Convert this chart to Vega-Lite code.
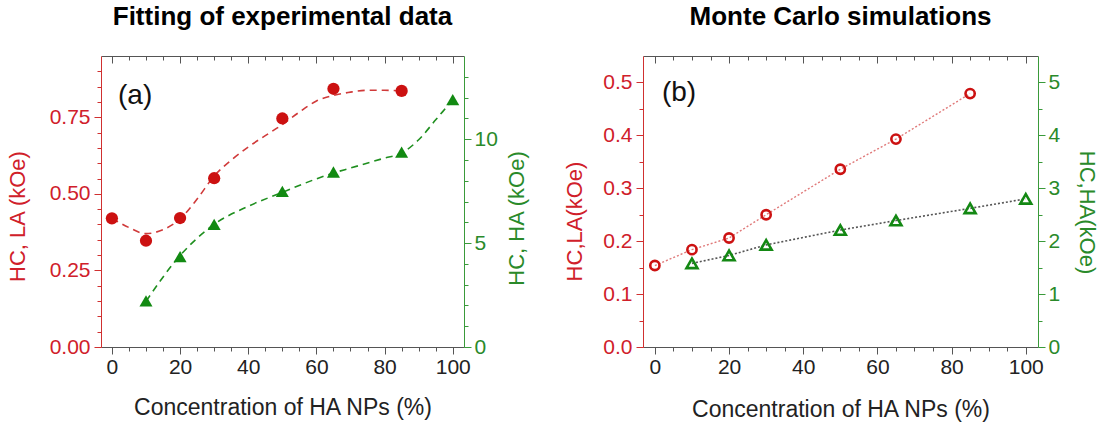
{
  "$schema": "https://vega.github.io/schema/vega-lite/v6.json",
  "background": "white",
  "padding": {"left": 6, "right": 6, "top": 3, "bottom": 4},
  "spacing": 35,
  "config": {
    "view": {"stroke": null},
    "font": "Liberation Sans",
    "axis": {"grid": false, "labelFont": "Liberation Sans", "titleFont": "Liberation Sans", "titleFontWeight": "normal"}
  },
  "datasets": {
    "expLA": [{"c": 0, "h": 0.42}, {"c": 10, "h": 0.347}, {"c": 20, "h": 0.421}, {"c": 30, "h": 0.551}, {"c": 50, "h": 0.746}, {"c": 65, "h": 0.843}, {"c": 85, "h": 0.836}],
    "expHA": [{"c": 10, "h": 2.22}, {"c": 20, "h": 4.35}, {"c": 30, "h": 5.9}, {"c": 50, "h": 7.49}, {"c": 65, "h": 8.42}, {"c": 85, "h": 9.38}, {"c": 100, "h": 11.9}],
    "fitLA": [{"c": 0, "h": 0.42}, {"c": 5, "h": 0.39}, {"c": 10, "h": 0.37}, {"c": 15, "h": 0.383}, {"c": 20, "h": 0.418}, {"c": 25, "h": 0.483}, {"c": 30, "h": 0.558}, {"c": 35, "h": 0.61}, {"c": 40, "h": 0.653}, {"c": 45, "h": 0.69}, {"c": 50, "h": 0.726}, {"c": 55, "h": 0.767}, {"c": 60, "h": 0.803}, {"c": 65, "h": 0.821}, {"c": 70, "h": 0.832}, {"c": 75, "h": 0.838}, {"c": 80, "h": 0.838}, {"c": 85, "h": 0.836}],
    "fitHA": [{"c": 10, "h": 2.2}, {"c": 20, "h": 4.4}, {"c": 30, "h": 5.9}, {"c": 40, "h": 6.77}, {"c": 50, "h": 7.44}, {"c": 60, "h": 8.09}, {"c": 65, "h": 8.37}, {"c": 70, "h": 8.61}, {"c": 80, "h": 9.09}, {"c": 85, "h": 9.33}, {"c": 90, "h": 9.97}, {"c": 95, "h": 10.93}, {"c": 100, "h": 11.89}],
    "mcLA": [{"c": 0, "h": 0.154}, {"c": 10, "h": 0.184}, {"c": 20, "h": 0.206}, {"c": 30, "h": 0.25}, {"c": 50, "h": 0.336}, {"c": 65, "h": 0.393}, {"c": 85, "h": 0.479}],
    "mcHA": [{"c": 10, "h": 1.58}, {"c": 20, "h": 1.73}, {"c": 30, "h": 1.93}, {"c": 50, "h": 2.21}, {"c": 65, "h": 2.39}, {"c": 85, "h": 2.62}, {"c": 100, "h": 2.8}],
    "labA": [{"c": 1.8, "h": 0.82, "t": "(a)"}],
    "labB": [{"c": 1.9, "h": 0.48, "t": "(b)"}]
  },
  "hconcat": [
    {
      "title": {"text": "Fitting of experimental data", "fontSize": 26, "fontWeight": "bold", "color": "#000", "anchor": "middle", "offset": 26},
      "width": 363,
      "height": 291,
      "resolve": {"scale": {"x": "independent", "y": "independent"}, "axis": {"x": "independent", "y": "independent"}},
      "layer": [
        {
          "data": {"name": "fitLA"},
          "mark": {"type": "line", "color": "#d03a3a", "strokeWidth": 1.6, "strokeDash": [7, 5], "interpolate": "monotone"},
          "encoding": {
            "x": {"field": "c", "type": "quantitative", "scale": {"domain": [-3.2, 103.3], "nice": false, "zero": false},
              "axis": {"orient": "bottom", "values": [0, 20, 40, 60, 80, 100], "title": "Concentration of HA NPs (%)", "domainColor": "#555", "tickColor": "#555", "tickSize": 7, "labelFontSize": 21, "labelColor": "#222", "titleFontSize": 23, "titleColor": "#222", "labelPadding": 2, "titlePadding": 19}},
            "y": {"field": "h", "type": "quantitative", "scale": {"domain": [0, 0.95], "nice": false, "zero": false},
              "axis": {"orient": "left", "values": [0, 0.25, 0.5, 0.75], "format": ".2f", "title": "HC, LA (kOe)", "titleY": 160, "domainColor": "#d03030", "tickColor": "#d03030", "labelColor": "#d0202a", "titleColor": "#d0202a", "tickSize": 7, "labelFontSize": 21, "titleFontSize": 22, "labelPadding": 4, "titlePadding": 20}}
          }
        },
        {
          "data": {"name": "fitHA"},
          "mark": {"type": "line", "color": "#1f8f1f", "strokeWidth": 1.6, "strokeDash": [7, 5], "interpolate": "monotone"},
          "encoding": {
            "x": {"field": "c", "type": "quantitative", "scale": {"domain": [-3.2, 103.3], "nice": false, "zero": false},
              "axis": {"orient": "top", "values": [0, 20, 40, 60, 80, 100], "labels": false, "title": null, "domain": false, "tickColor": "#555", "tickSize": 7, "offset": -7}},
            "y": {"field": "h", "type": "quantitative", "scale": {"domain": [0, 14], "nice": false, "zero": false},
              "axis": {"orient": "right", "values": [0, 5, 10], "format": "d", "title": "HC, HA (kOe)", "titleY": 162, "titleAngle": 270, "titleBaseline": "top", "domainColor": "#3a9a3a", "tickColor": "#3a9a3a", "labelColor": "#2a8a2a", "titleColor": "#2a8a2a", "tickSize": 7, "labelFontSize": 21, "titleFontSize": 22, "labelPadding": 3, "titlePadding": 9}}
          }
        },
        {
          "data": {"name": "expLA"},
          "mark": {"type": "point", "shape": "circle", "filled": true, "size": 150, "color": "#cc1111", "opacity": 1},
          "encoding": {
            "x": {"field": "c", "type": "quantitative", "scale": {"domain": [-3.2, 103.3], "nice": false, "zero": false},
              "axis": {"orient": "bottom", "values": [0, 5, 10, 15, 20, 25, 30, 35, 40, 45, 50, 55, 60, 65, 70, 75, 80, 85, 90, 95, 100], "labels": false, "domain": false, "title": null, "tickColor": "#555", "tickSize": 4}},
            "y": {"field": "h", "type": "quantitative", "scale": {"domain": [0, 0.95], "nice": false, "zero": false},
              "axis": {"orient": "left", "values": [0, 0.05, 0.1, 0.15, 0.2, 0.25, 0.3, 0.35, 0.4, 0.45, 0.5, 0.55, 0.6, 0.65, 0.7, 0.75, 0.8, 0.85, 0.9], "labels": false, "domain": false, "title": null, "tickColor": "#d03030", "tickSize": 4}}
          }
        },
        {
          "data": {"name": "expHA"},
          "mark": {"type": "point", "shape": "triangle-up", "filled": true, "size": 170, "color": "#128a12", "opacity": 1},
          "encoding": {
            "x": {"field": "c", "type": "quantitative", "scale": {"domain": [-3.2, 103.3], "nice": false, "zero": false},
              "axis": {"orient": "top", "values": [0, 5, 10, 15, 20, 25, 30, 35, 40, 45, 50, 55, 60, 65, 70, 75, 80, 85, 90, 95, 100], "labels": false, "domain": false, "title": null, "tickColor": "#555", "tickSize": 4, "offset": -4}},
            "y": {"field": "h", "type": "quantitative", "scale": {"domain": [0, 14], "nice": false, "zero": false},
              "axis": {"orient": "right", "values": [0, 1, 2, 3, 4, 5, 6, 7, 8, 9, 10, 11, 12, 13], "labels": false, "domain": false, "title": null, "tickColor": "#3a9a3a", "tickSize": 4}}
          }
        },
        {
          "data": {"name": "labA"},
          "mark": {"type": "text", "align": "left", "baseline": "middle", "fontSize": 28, "color": "#111", "font": "Liberation Sans"},
          "encoding": {
            "x": {"field": "c", "type": "quantitative", "scale": {"domain": [-3.2, 103.3], "nice": false, "zero": false},
              "axis": {"orient": "top", "labels": false, "ticks": false, "title": null, "domain": true, "domainColor": "#555"}},
            "y": {"field": "h", "type": "quantitative", "scale": {"domain": [0, 0.95], "nice": false, "zero": false}, "axis": null},
            "text": {"field": "t"}
          }
        }
      ]
    },
    {
      "title": {"text": "Monte Carlo simulations", "fontSize": 26, "fontWeight": "bold", "color": "#000", "anchor": "middle", "offset": 26},
      "width": 395,
      "height": 291,
      "resolve": {"scale": {"x": "independent", "y": "independent"}, "axis": {"x": "independent", "y": "independent"}},
      "layer": [
        {
          "data": {"name": "mcLA"},
          "mark": {"type": "line", "color": "#e07a7a", "strokeWidth": 1.4, "strokeDash": [2, 2]},
          "encoding": {
            "x": {"field": "c", "type": "quantitative", "scale": {"domain": [-3.2, 103.3], "nice": false, "zero": false},
              "axis": {"orient": "bottom", "values": [0, 20, 40, 60, 80, 100], "title": "Concentration of HA NPs (%)", "domainColor": "#555", "tickColor": "#555", "tickSize": 7, "labelFontSize": 21, "labelColor": "#222", "titleFontSize": 23, "titleColor": "#222", "labelPadding": 2, "titlePadding": 21}},
            "y": {"field": "h", "type": "quantitative", "scale": {"domain": [0, 0.55], "nice": false, "zero": false},
              "axis": {"orient": "left", "values": [0, 0.1, 0.2, 0.3, 0.4, 0.5], "format": ".1f", "title": "HC,LA(kOe)", "titleY": 165, "domainColor": "#d03030", "tickColor": "#d03030", "labelColor": "#d0202a", "titleColor": "#d0202a", "tickSize": 7, "labelFontSize": 21, "titleFontSize": 22, "labelPadding": 4, "titlePadding": 16}}
          }
        },
        {
          "data": {"name": "mcHA"},
          "mark": {"type": "line", "color": "#555", "strokeWidth": 1.6, "strokeDash": [2, 2]},
          "encoding": {
            "x": {"field": "c", "type": "quantitative", "scale": {"domain": [-3.2, 103.3], "nice": false, "zero": false},
              "axis": {"orient": "top", "values": [0, 20, 40, 60, 80, 100], "labels": false, "title": null, "domain": false, "tickColor": "#555", "tickSize": 7, "offset": -7}},
            "y": {"field": "h", "type": "quantitative", "scale": {"domain": [0, 5.5], "nice": false, "zero": false},
              "axis": {"orient": "right", "values": [0, 1, 2, 3, 4, 5], "format": "d", "title": "HC,HA(kOe)", "titleY": 156, "domainColor": "#3a9a3a", "tickColor": "#3a9a3a", "labelColor": "#2a8a2a", "titleColor": "#2a8a2a", "tickSize": 7, "labelFontSize": 21, "titleFontSize": 22, "labelPadding": 3, "titlePadding": 15}}
          }
        },
        {
          "data": {"name": "mcLA"},
          "mark": {"type": "point", "shape": "circle", "filled": false, "size": 85, "strokeWidth": 2.6, "color": "#cc1111", "opacity": 1},
          "encoding": {
            "x": {"field": "c", "type": "quantitative", "scale": {"domain": [-3.2, 103.3], "nice": false, "zero": false},
              "axis": {"orient": "bottom", "values": [0, 5, 10, 15, 20, 25, 30, 35, 40, 45, 50, 55, 60, 65, 70, 75, 80, 85, 90, 95, 100], "labels": false, "domain": false, "title": null, "tickColor": "#555", "tickSize": 4}},
            "y": {"field": "h", "type": "quantitative", "scale": {"domain": [0, 0.55], "nice": false, "zero": false},
              "axis": {"orient": "left", "values": [0, 0.05, 0.1, 0.15, 0.2, 0.25, 0.3, 0.35, 0.4, 0.45, 0.5], "labels": false, "domain": false, "title": null, "tickColor": "#d03030", "tickSize": 4}}
          }
        },
        {
          "data": {"name": "mcHA"},
          "mark": {"type": "point", "shape": "triangle-up", "filled": false, "size": 120, "strokeWidth": 2.6, "color": "#138813", "opacity": 1},
          "encoding": {
            "x": {"field": "c", "type": "quantitative", "scale": {"domain": [-3.2, 103.3], "nice": false, "zero": false},
              "axis": {"orient": "top", "values": [0, 5, 10, 15, 20, 25, 30, 35, 40, 45, 50, 55, 60, 65, 70, 75, 80, 85, 90, 95, 100], "labels": false, "domain": false, "title": null, "tickColor": "#555", "tickSize": 4, "offset": -4}},
            "y": {"field": "h", "type": "quantitative", "scale": {"domain": [0, 5.5], "nice": false, "zero": false},
              "axis": {"orient": "right", "values": [0, 0.5, 1, 1.5, 2, 2.5, 3, 3.5, 4, 4.5, 5], "labels": false, "domain": false, "title": null, "tickColor": "#3a9a3a", "tickSize": 4}}
          }
        },
        {
          "data": {"name": "labB"},
          "mark": {"type": "text", "align": "left", "baseline": "middle", "fontSize": 28, "color": "#111", "font": "Liberation Sans"},
          "encoding": {
            "x": {"field": "c", "type": "quantitative", "scale": {"domain": [-3.2, 103.3], "nice": false, "zero": false},
              "axis": {"orient": "top", "labels": false, "ticks": false, "title": null, "domain": true, "domainColor": "#555"}},
            "y": {"field": "h", "type": "quantitative", "scale": {"domain": [0, 0.55], "nice": false, "zero": false}, "axis": null},
            "text": {"field": "t"}
          }
        }
      ]
    }
  ]
}
